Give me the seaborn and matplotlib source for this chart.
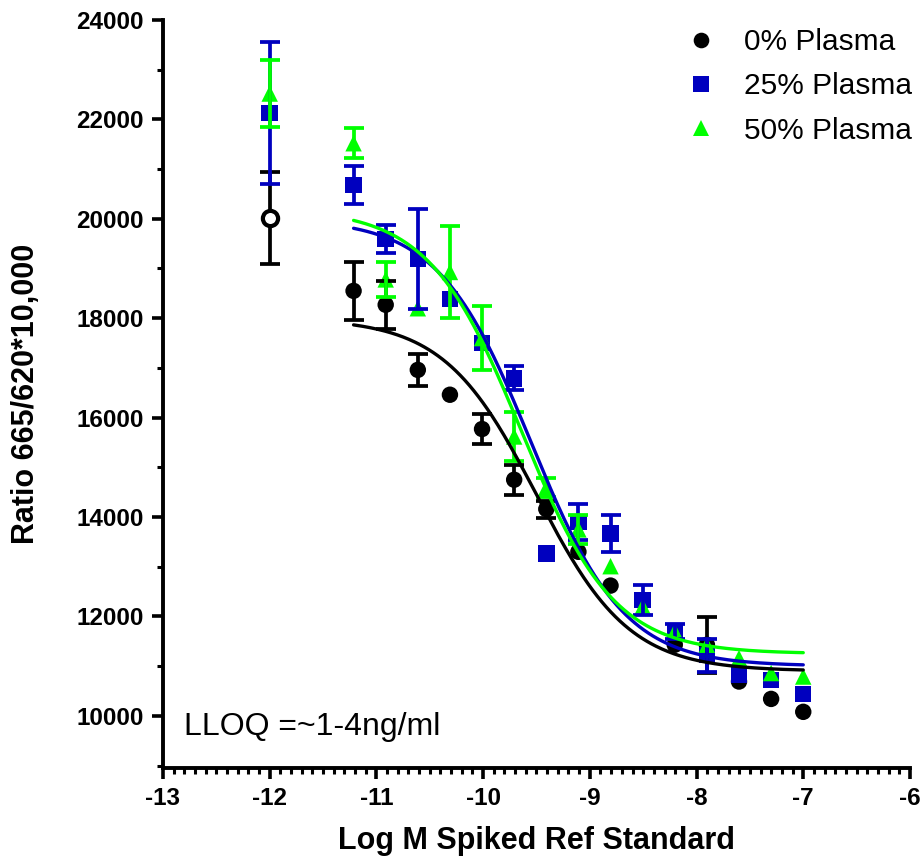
import numpy as np
import pandas as pd
import matplotlib
matplotlib.use("Agg")
import matplotlib.pyplot as plt
import seaborn as sns
from matplotlib.ticker import MultipleLocator

# ---------------- data ----------------
log_conc = [-12.0, -11.214, -10.913, -10.612, -10.311, -10.010, -9.709, -9.408,
            -9.107, -8.806, -8.505, -8.204, -7.903, -7.602, -7.301, -7.0]

series_names = ["0% Plasma", "25% Plasma", "50% Plasma"]

mean_0 = [20020, 18550, 18270, 16960, 16460, 15770, 14750, 14160,
          13300, 12620, 12300, 11430, 11430, 10690, 10340, 10080]
sd_0 = [930, 585, 480, 320, 0, 300, 300, 170, 0, 0, 0, 0, 560, 0, 0, 0]

mean_25 = [22130, 20680, 19590, 19190, 18390, 17500, 16790, 13270,
           13900, 13670, 12330, 11690, 11220, 10830, 10720, 10440]
sd_25 = [1430, 380, 285, 1000, 0, 0, 240, 0, 360, 370, 295, 150, 330, 0, 0, 0]

mean_50 = [22520, 21520, 18780, 18200, 18930, 17600, 15620, 14590,
           13750, 13010, 12200, 11700, 11430, 11160, 10860, 10790]
sd_50 = [680, 300, 360, 0, 930, 640, 485, 185, 300, 0, 0, 0, 0, 0, 0, 0]

# 4-parameter logistic fit parameters per series
fit_top = [18000, 20000, 20200]
fit_bottom = [10900, 11000, 11250]
fit_logic50 = [-9.50, -9.55, -9.64]
fit_hill = [1.0, 1.0, 1.0]
fit_x_range = [-11.214, -7.0]

excluded_series = "0% Plasma"
excluded_x = -12.0

x_ticks = [-13, -12, -11, -10, -9, -8, -7, -6]
y_ticks = [10000, 12000, 14000, 16000, 18000, 20000, 22000, 24000]

lloq_text = "LLOQ =~1-4ng/ml"
x_label = "Log M Spiked Ref Standard"
y_label = "Ratio 665/620*10,000"

colors = {"0% Plasma": "#000000", "25% Plasma": "#0000BF", "50% Plasma": "#00FF00"}
markers = {"0% Plasma": "o", "25% Plasma": "s", "50% Plasma": "^"}

# ---------------- tables ----------------
means = [mean_0, mean_25, mean_50]
sds = [sd_0, sd_25, sd_50]
points = pd.concat([
    pd.DataFrame({"logM": log_conc, "ratio": m, "sd": s, "series": name})
    for name, m, s in zip(series_names, means, sds)
], ignore_index=True)

xfit = np.linspace(fit_x_range[0], fit_x_range[1], 300)
curves = pd.concat([
    pd.DataFrame({
        "logM": xfit,
        "ratio": b + (t - b) / (1 + 10 ** ((xfit - c) * h)),
        "series": name,
    })
    for name, t, b, c, h in zip(series_names, fit_top, fit_bottom, fit_logic50, fit_hill)
], ignore_index=True)

is_excl = (points["series"] == excluded_series) & np.isclose(points["logM"], excluded_x)

# ---------------- figure ----------------
sns.set_theme(style="white")
plt.rcParams["font.family"] = ["Liberation Sans", "DejaVu Sans"]
plt.rcParams["axes.unicode_minus"] = False
plt.rcParams["text.color"] = "black"
plt.rcParams["axes.labelcolor"] = "black"
plt.rcParams["xtick.color"] = "black"
plt.rcParams["ytick.color"] = "black"

fig = plt.figure(figsize=(9.24, 8.58), dpi=100)
ax = fig.add_axes([0.1764, 0.1049, 0.8084, 0.8718])

# error bars
for name in series_names:
    sub = points[(points["series"] == name) & (points["sd"] > 0)]
    ax.errorbar(sub["logM"], sub["ratio"], yerr=sub["sd"], fmt="none",
                ecolor=colors[name], elinewidth=2.7, capsize=7.5, capthick=2.7,
                zorder=4)

# markers
sns.scatterplot(data=points[~is_excl], x="logM", y="ratio", hue="series",
                style="series", hue_order=series_names, style_order=series_names,
                palette=colors, markers=markers, s=140, linewidth=0,
                ax=ax, zorder=3, legend=True)
excl = points[is_excl]
ax.scatter(excl["logM"], excl["ratio"], s=120, marker="o", facecolor="white",
           edgecolor=colors[excluded_series], linewidth=3.0, zorder=7)

# fitted curves
sns.lineplot(data=curves, x="logM", y="ratio", hue="series", hue_order=series_names,
             palette=colors, linewidth=2.4, ax=ax, legend=False, zorder=5,
             estimator=None, sort=False)

# axes styling
ax.set_xlim(-13, -6)
ax.set_ylim(8950, 24000)
ax.set_xticks(x_ticks)
ax.set_yticks(y_ticks)
ax.xaxis.set_minor_locator(MultipleLocator(0.1))
ax.yaxis.set_minor_locator(MultipleLocator(1000))
for side in ["top", "right"]:
    ax.spines[side].set_visible(False)
for side in ["left", "bottom"]:
    ax.spines[side].set_linewidth(2.8)
    ax.spines[side].set_color("black")
ax.tick_params(axis="both", which="major", direction="out", length=8, width=2.6,
               color="black", labelcolor="black", labelsize=17.5, pad=6)
ax.tick_params(axis="both", which="minor", direction="out", length=4.2, width=2.2,
               color="black")
ax.tick_params(axis="x", which="both", bottom=True)
ax.tick_params(axis="y", which="both", left=True)
for lab in ax.get_xticklabels() + ax.get_yticklabels():
    lab.set_fontweight("bold")
ax.grid(False)

ax.set_xlabel(x_label, fontsize=22, fontweight="bold", color="black")
ax.set_ylabel(y_label, fontsize=22, fontweight="bold", color="black")
ax.xaxis.set_label_coords(0.5, -0.078)
ax.yaxis.set_label_coords(-0.163, 0.5)

ax.text(-12.80, 9620, lloq_text, fontsize=23, ha="left", va="baseline", color="black")

handles, labels = ax.get_legend_handles_labels()
leg = ax.legend(handles, labels, loc="upper left",
                bbox_to_anchor=(683 / 924, 1 - 28 / 858), bbox_transform=fig.transFigure,
                frameon=False, fontsize=21.5, handlelength=1.2, handletextpad=0.85,
                labelspacing=0.55, borderpad=0, borderaxespad=0, markerscale=0.95)
for t in leg.get_texts():
    t.set_color("black")

fig.savefig("out.png", dpi=100)
